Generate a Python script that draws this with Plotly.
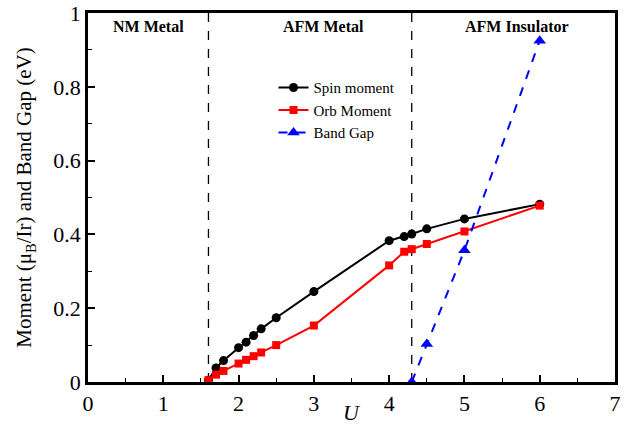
import plotly.graph_objects as go

U_spin = [1.6, 1.7, 1.8, 2.0, 2.1, 2.2, 2.3, 2.5, 3.0, 4.0, 4.2, 4.3, 4.5, 5.0, 6.0]
spin_moment = [0.005, 0.038, 0.058, 0.093, 0.108, 0.126, 0.144, 0.174, 0.245, 0.383, 0.394, 0.401, 0.415, 0.442, 0.482]
orb_moment = [0.005, 0.02, 0.03, 0.05, 0.06, 0.07, 0.08, 0.10, 0.153, 0.316, 0.353, 0.360, 0.374, 0.408, 0.478]
U_gap = [4.3, 4.5, 5.0, 6.0]
band_gap = [0.0, 0.103, 0.357, 0.925]

phase_boundaries = [1.6, 4.3]
phase_labels = ["NM Metal", "AFM Metal", "AFM Insulator"]
phase_label_x = [0.8, 3.13, 5.7]

FONT = "Liberation Serif"

fig = go.Figure()
fig.add_trace(go.Scatter(x=U_spin, y=spin_moment, mode="lines+markers", name="Spin moment",
                         line=dict(color="black", width=2),
                         marker=dict(symbol="circle", size=9, color="black")))
fig.add_trace(go.Scatter(x=U_spin, y=orb_moment, mode="lines+markers", name="Orb Moment",
                         line=dict(color="#ff0000", width=2),
                         marker=dict(symbol="square", size=8, color="#ff0000")))
fig.add_trace(go.Scatter(x=U_gap, y=band_gap, mode="lines+markers", name="Band Gap",
                         line=dict(color="#0000ff", width=2, dash="dash"),
                         marker=dict(symbol="triangle-up", size=11, color="#0000ff")))

for xb in phase_boundaries:
    fig.add_shape(type="line", x0=xb, x1=xb, y0=0, y1=1, xref="x", yref="y",
                  line=dict(color="black", width=1.3, dash="dash"), layer="below")

for lbl, lx in zip(phase_labels, phase_label_x):
    fig.add_annotation(x=lx, y=0.963, xref="x", yref="y", text=f"<b>{lbl}</b>",
                       showarrow=False, font=dict(family=FONT, size=16, color="black"))

# x-axis title placed as annotation for exact position
fig.add_annotation(x=0.5, y=-0.082, xref="paper", yref="paper", text="<i>U</i>",
                   showarrow=False, yanchor="middle",
                   font=dict(family=FONT, size=22, color="black"))

axis_common = dict(showline=True, linecolor="black", linewidth=2.5, mirror=True,
                   ticks="inside", ticklen=7, tickwidth=1.5, tickcolor="black",
                   showgrid=False, zeroline=False, automargin=False,
                   ticklabeloverflow="allow",
                   tickfont=dict(family=FONT, size=22, color="black"))

fig.update_xaxes(range=[0, 7], dtick=1, tick0=0,
                 minor=dict(ticks="inside", ticklen=4, tickwidth=1.2, dtick=0.5, tickcolor="black", showgrid=False),
                 **axis_common)
fig.update_yaxes(range=[0, 1], dtick=0.2, tick0=0,
                 minor=dict(ticks="inside", ticklen=4, tickwidth=1.2, dtick=0.1, tickcolor="black", showgrid=False),
                 tickformat="~g",
                 title=dict(text="Moment (μ<sub>B</sub>/Ir) and Band Gap (eV)",
                            font=dict(family=FONT, size=21, color="black"), standoff=16),
                 **axis_common)

fig.update_layout(
    width=629, height=425,
    margin=dict(l=88, r=14, t=13, b=43),
    plot_bgcolor="white", paper_bgcolor="white",
    font=dict(family=FONT, color="black"),
    legend=dict(x=0.352, y=0.842, xanchor="left", yanchor="top",
                bgcolor="rgba(0,0,0,0)", font=dict(family=FONT, size=15, color="black"),
                itemwidth=30, tracegroupgap=0),
)

# remove the browser's default 8px body margin so the figure fills the window exactly
fig.write_html("out.html", config={"displayModeBar": False},
               post_script="document.body.style.margin='0';")
